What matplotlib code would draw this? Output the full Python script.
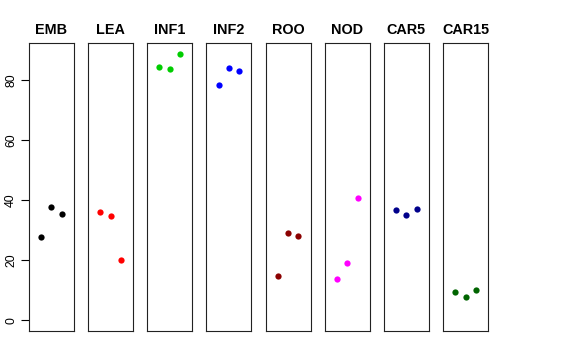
import matplotlib
matplotlib.use('Agg')
import matplotlib.pyplot as plt

plt.rcParams['font.family'] = ['Liberation Sans', 'DejaVu Sans']

# tissue groups and their three replicate values
groups = ['EMB', 'LEA', 'INF1', 'INF2', 'ROO', 'NOD', 'CAR5', 'CAR15']
values = [
    [27.6, 37.9, 35.4],
    [36.2, 34.9, 20.1],
    [84.3, 83.8, 88.8],
    [78.3, 83.9, 83.0],
    [14.8, 29.2, 28.2],
    [13.9, 19.1, 40.7],
    [36.7, 35.0, 37.1],
    [9.6, 7.7, 10.0],
]
colors = ['black', 'red', '#00CD00', 'blue', '#8B0000', 'magenta', '#00008B', '#006400']
reps = [1, 2, 3]
yticks = [0, 20, 40, 60, 80]

ymax = max(max(v) for v in values)
pad = 0.04 * ymax

fig, axes = plt.subplots(1, 8, figsize=(5.76, 3.6), dpi=100)
fig.subplots_adjust(left=29/576, right=488/576, top=1-43/360, bottom=1-331/360, wspace=0.316)

for i, ax in enumerate(axes):
    ax.plot(reps, values[i], 'o', color=colors[i], markersize=4.5, markeredgewidth=0)
    ax.set_xlim(-0.16, 4.16)
    ax.set_ylim(-pad, ymax + pad)
    ax.set_title(groups[i], fontsize=10.4, fontweight='bold', pad=6.5)
    ax.set_xticks([])
    for s in ax.spines.values():
        s.set_color('#222222')
        s.set_linewidth(0.8)
    if i == 0:
        ax.set_yticks(yticks)
        ax.tick_params(axis='y', length=5.5, width=0.8, pad=3, labelsize=8.8)
        for lab in ax.get_yticklabels():
            lab.set_rotation(90)
            lab.set_va('center')
    else:
        ax.set_yticks([])

plt.savefig('out.png', dpi=100)
